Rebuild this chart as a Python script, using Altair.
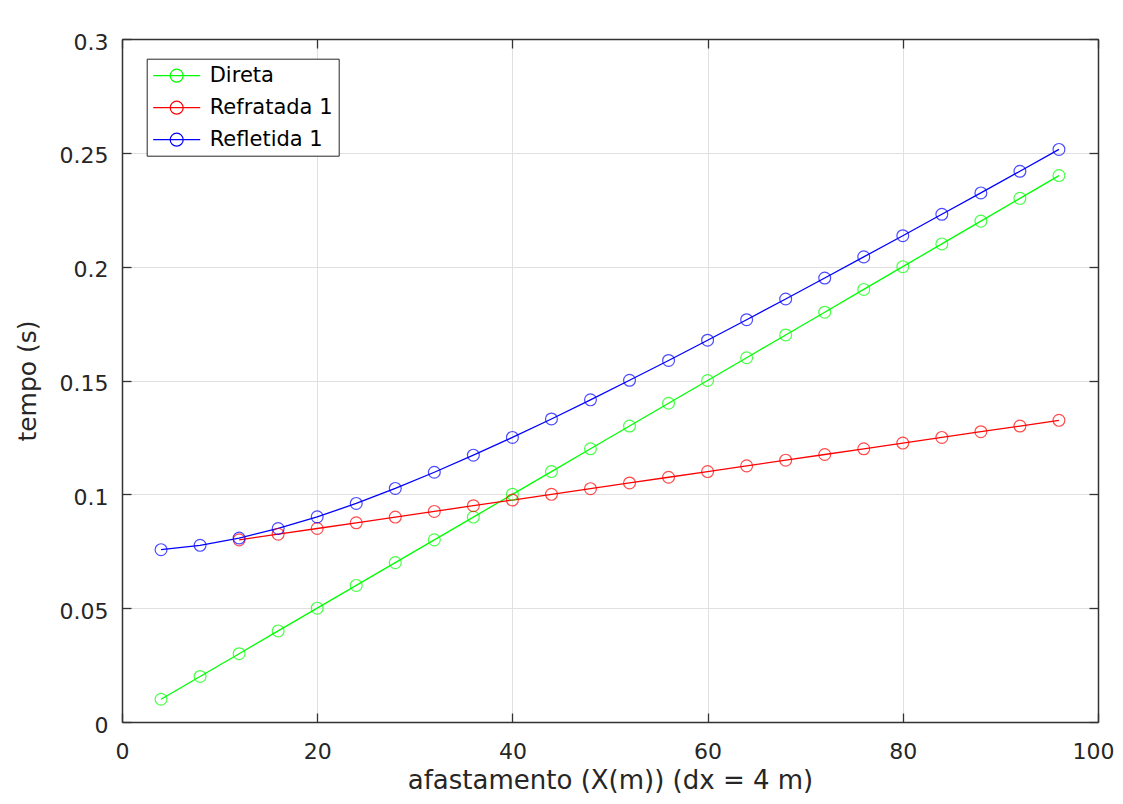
import altair as alt
import pandas as pd

# ---- data ----
x_direta = [4, 8, 12, 16, 20, 24, 28, 32, 36, 40, 44, 48, 52, 56, 60, 64, 68, 72, 76, 80, 84, 88, 92, 96]
t_direta = [0.01, 0.02, 0.03, 0.04, 0.05, 0.06, 0.07, 0.08, 0.09, 0.10, 0.11, 0.12,
            0.13, 0.14, 0.15, 0.16, 0.17, 0.18, 0.19, 0.20, 0.21, 0.22, 0.23, 0.24]

x_refratada = [12, 16, 20, 24, 28, 32, 36, 40, 44, 48, 52, 56, 60, 64, 68, 72, 76, 80, 84, 88, 92, 96]
t_refratada = [0.0800, 0.0825, 0.0850, 0.0875, 0.0900, 0.0925, 0.0950, 0.0975, 0.1000, 0.1025, 0.1050,
               0.1075, 0.1100, 0.1125, 0.1150, 0.1175, 0.1200, 0.1225, 0.1250, 0.1275, 0.1300, 0.1325]

x_refletida = [4, 8, 12, 16, 20, 24, 28, 32, 36, 40, 44, 48, 52, 56, 60, 64, 68, 72, 76, 80, 84, 88, 92, 96]
t_refletida = [0.0757, 0.0776, 0.0808, 0.0850, 0.0901, 0.0960, 0.1026, 0.1097, 0.1172, 0.1250, 0.1331, 0.1415,
               0.1501, 0.1588, 0.1677, 0.1767, 0.1858, 0.1950, 0.2043, 0.2136, 0.2230, 0.2324, 0.2419, 0.2515]

series = ["Direta", "Refratada 1", "Refletida 1"]
colors = ["#00ff00", "#ff0000", "#0000ff"]

x_ticks = [0, 20, 40, 60, 80, 100]
x_ticks_inner = [0, 20, 40, 60, 80]
x_tick_last = [100]
y_ticks = [0, 0.05, 0.1, 0.15, 0.2, 0.25, 0.3]

rows = []
for i, (name, xs, ts) in enumerate(zip(series, [x_direta, x_refratada, x_refletida],
                                        [t_direta, t_refratada, t_refletida])):
    for xv, tv in zip(xs, ts):
        rows.append({"serie": name, "x": xv, "t": tv, "ordem": i})
df = pd.DataFrame(rows)

FONT = "DejaVu Sans"
TXT = "#262626"
FRAME = "#333333"
xscale = alt.Scale(domain=[0, 100], nice=False, zero=False)
yscale = alt.Scale(domain=[0, 0.3], nice=False)
cscale = alt.Scale(domain=series, range=colors)

legend_path = "M-2.35,0H2.35M0.65,0A0.65,0.65,0,1,1,-0.65,0A0.65,0.65,0,1,1,0.65,0"

base = alt.Chart(df)

lines = base.mark_line(strokeWidth=1.3).encode(
    x=alt.X("x:Q", scale=xscale, axis=alt.Axis(
        orient="bottom", values=x_ticks_inner, grid=True, ticks=False, tickSize=0,
        domain=True, domainColor=FRAME, domainWidth=1.5,
        labelPadding=19, labelFont=FONT, labelFontSize=22, labelColor=TXT, labelFlush=False,
        labelOverlap=False, title="afastamento (X(m)) (dx = 4 m)", titleFont=FONT,
        titleFontSize=26, titleFontWeight="normal", titleColor=TXT, titlePadding=5,
        gridColor="#e0e0e0", gridWidth=1)),
    y=alt.Y("t:Q", scale=yscale, axis=alt.Axis(
        orient="left", values=y_ticks, format="~g", grid=True, ticks=False, tickSize=0,
        domain=True, domainColor=FRAME, domainWidth=1.5,
        labelPadding=14, labelFont=FONT, labelFontSize=22, labelColor=TXT, labelFlush=False,
        labelOverlap=False, labelOffset=3, title="tempo (s)", titleFont=FONT, titleFontSize=25,
        titleFontWeight="normal", titleColor=TXT, titlePadding=19,
        gridColor="#e0e0e0", gridWidth=1)),
    color=alt.Color("serie:N", scale=cscale, sort=series, legend=alt.Legend(
        orient="none", legendX=24.7, legendY=19.7, title=None, symbolType=legend_path,
        symbolSize=400, symbolStrokeWidth=1.2, symbolOffset=13, labelOffset=22,
        labelFont=FONT, labelFontSize=21, labelColor="#000000", padding=6, rowPadding=11,
        strokeColor="#262626", fillColor="white", cornerRadius=0,
        symbolFillColor="transparent")),
    detail="serie:N",
    order="x:Q",
)

points = base.mark_point(filled=False, size=140, strokeWidth=1.2).encode(
    x=alt.X("x:Q", scale=xscale, axis=None),
    y=alt.Y("t:Q", scale=yscale, axis=None),
    color=alt.Color("serie:N", scale=cscale, legend=None),
)

# last x label (100), pulled in so it stays inside the page
last_label = base.mark_point(opacity=0).encode(
    x=alt.X("x:Q", scale=xscale, axis=alt.Axis(
        orient="bottom", values=x_tick_last, grid=True, gridColor="#e0e0e0", ticks=False,
        tickSize=0, domain=False, labelPadding=19, labelFont=FONT, labelFontSize=22,
        labelColor=TXT, labelFlush=True, labelFlushOffset=16, title=None)),
    y=alt.Y("t:Q", scale=yscale, axis=None),
)

def tick_layer(xorient, yorient, offset, size, domain):
    return base.mark_point(opacity=0).encode(
        x=alt.X("x:Q", scale=xscale, axis=alt.Axis(
            orient=xorient, values=x_ticks, offset=offset, tickSize=size, ticks=size > 0,
            labels=False, domain=domain, domainColor=FRAME, domainWidth=1.5, grid=False,
            title=None, tickColor=FRAME, tickWidth=1.3)),
        y=alt.Y("t:Q", scale=yscale, axis=alt.Axis(
            orient=yorient, values=y_ticks, offset=offset, tickSize=size, ticks=size > 0,
            labels=False, domain=domain, domainColor=FRAME, domainWidth=1.5, grid=False,
            title=None, tickColor=FRAME, tickWidth=1.3)),
    )

chart = alt.layer(
    lines, points, last_label,
    tick_layer("bottom", "left", -9, 9, False),
    tick_layer("top", "right", -9, 9, False),
    tick_layer("top", "right", 0, 0, True),
).resolve_axis(x="independent", y="independent").properties(
    width=976, height=683,
    background="white",
    autosize=alt.AutoSizeParams(type="none"),
    padding={"left": 114, "top": 31, "right": 17, "bottom": 74},
).configure_view(stroke=None)

chart.save("out.html", embed_options={"renderer": "svg", "actions": False})
